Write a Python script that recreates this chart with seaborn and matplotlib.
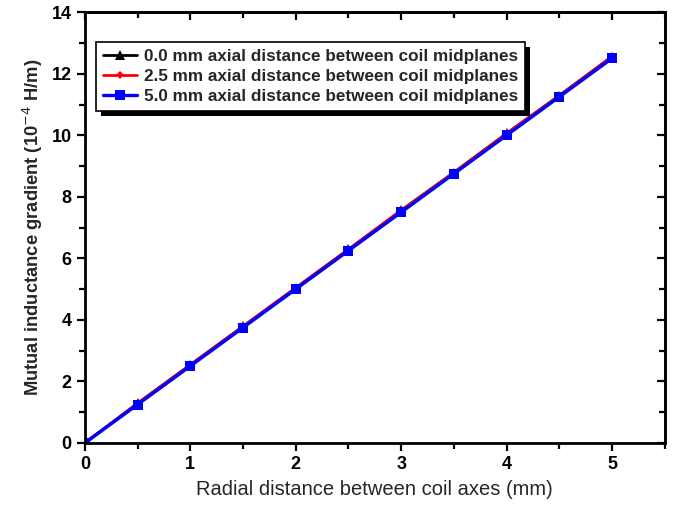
import numpy as np
import pandas as pd
import matplotlib
matplotlib.use("Agg")
import matplotlib.pyplot as plt
import seaborn as sns
from matplotlib.ticker import MultipleLocator
from matplotlib.patches import Rectangle

# Data
radial_mm = [0.0, 0.5, 1.0, 1.5, 2.0, 2.5, 3.0, 3.5, 4.0, 4.5, 5.0]
grad_00 = [0.0, 1.29, 2.54, 3.79, 5.04, 6.29, 7.56, 8.79, 10.06, 11.29, 12.56]
grad_25 = [0.0, 1.29, 2.54, 3.79, 5.04, 6.29, 7.56, 8.79, 10.06, 11.29, 12.56]
grad_50 = [0.0, 1.25, 2.50, 3.75, 5.00, 6.25, 7.50, 8.75, 10.00, 11.25, 12.50]

labels = [
    "0.0 mm axial distance between coil midplanes",
    "2.5 mm axial distance between coil midplanes",
    "5.0 mm axial distance between coil midplanes",
]

sns.set_style("white")
plt.rcParams["font.family"] = ["Liberation Sans", "DejaVu Sans"]

fig = plt.figure(figsize=(6.79, 5.08), dpi=100)
ax = fig.add_axes([0.125, 0.128, 0.854, 0.848])

series = [
    (grad_00, labels[0], "black", "^", 7, 2.0),
    (grad_25, labels[1], "red", "D", 4.5, 2.0),
    (grad_50, labels[2], "blue", "s", 7.5, 2.4),
]
for vals, lab, col, mk, ms, lw in series:
    df = pd.DataFrame({"x": radial_mm, "y": vals})
    sns.lineplot(data=df, x="x", y="y", ax=ax, color=col, marker=mk,
                 markersize=ms, markeredgewidth=0, linewidth=lw, label=lab)

ax.set_xlim(0, 5.5)
ax.set_ylim(0, 14)
ax.xaxis.set_major_locator(MultipleLocator(1))
ax.xaxis.set_minor_locator(MultipleLocator(0.5))
ax.yaxis.set_major_locator(MultipleLocator(2))
ax.yaxis.set_minor_locator(MultipleLocator(1))

for sp in ax.spines.values():
    sp.set_color("black")
    sp.set_linewidth(2)

ax.tick_params(which="both", direction="out", bottom=True, left=True,
               width=1.6, colors="black")
ax.tick_params(which="major", length=6, labelsize=13)
ax.tick_params(which="minor", length=4)

# top and right: inward ticks, no labels
top = ax.secondary_xaxis("top")
right = ax.secondary_yaxis("right")
for sec, loc_major, loc_minor in [(top, 1, 0.5), (right, 2, 1)]:
    sec_axis = sec.xaxis if sec is top else sec.yaxis
    sec_axis.set_major_locator(MultipleLocator(loc_major))
    sec_axis.set_minor_locator(MultipleLocator(loc_minor))
    sec.tick_params(which="both", direction="in", width=1.6, colors="black",
                    labeltop=False, labelright=False)
    sec.tick_params(which="major", length=6)
    sec.tick_params(which="minor", length=4)
    for sp in sec.spines.values():
        sp.set_linewidth(2)

for lbl in ax.get_xticklabels() + ax.get_yticklabels():
    lbl.set_fontweight("bold")

ax.set_xlabel("Radial distance between coil axes (mm)", fontsize=14.5,
              labelpad=5)
ax.set_ylabel("Mutual inductance gradient (10$^{-4}$ H/m)", fontsize=13.2,
              fontweight="bold", labelpad=5)

leg = ax.legend(loc="upper left", bbox_to_anchor=(0.004, 0.95),
                frameon=True, fancybox=False, borderpad=0.4,
                handlelength=2.0, handletextpad=0.4, labelspacing=0.3,
                prop={"weight": "bold", "size": 12.3})
leg.get_frame().set_edgecolor("black")
leg.get_frame().set_linewidth(1.2)
leg.get_frame().set_alpha(1)
leg.set_zorder(10)

# solid offset shadow behind the legend box
fig.canvas.draw()
bb = leg.get_window_extent()
shadow = Rectangle((bb.x0 + 5, bb.y0 - 5), bb.width, bb.height,
                   transform=None, facecolor="black", edgecolor="none",
                   zorder=9, clip_on=False)
ax.add_artist(shadow)

fig.savefig("out.png", dpi=100)
